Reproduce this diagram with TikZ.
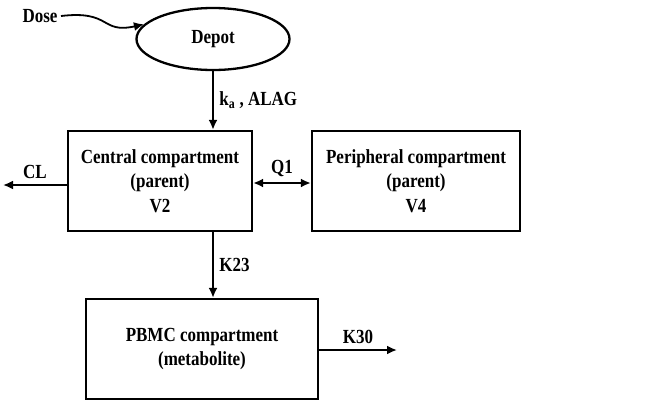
\documentclass[tikz,border=0pt]{standalone}
\usepackage{fontspec}
\setmainfont{Liberation Serif}[FakeStretch=0.85]
\usetikzlibrary{arrows.meta,shapes.geometric}

\tikzset{
	comp/.style = {draw, line width = 2.3pt, minimum height = 100pt, align = center, inner sep = 0pt},
	flow/.style = {line width = 2.2pt, -{Latex[length = 10pt, width = 9pt]}}
}

\begin{document}
\begin{tikzpicture}[x = 1pt, y = -1pt, font = \fontsize{20}{24.5}\selectfont\bfseries]
	\useasboundingbox (0, 0) rectangle (661, 405);
	% compartments
	\node[draw, ellipse, line width = 2.3pt, minimum width = 153pt, minimum height = 62pt] (depot) at (213, 39) {Depot};
	\node[comp, minimum width = 184pt] (central) at (160, 181) {Central compartment\\(parent)\\V2};
	\node[comp, minimum width = 208pt] (periph) at (416, 181) {Peripheral compartment\\(parent)\\V4};
	\node[comp, minimum width = 232pt] (pbmc) at (202, 349) {PBMC compartment\\(metabolite)};
	% dose
	\node (dose) at (40, 16) {Dose};
	\draw[flow, line width = 1.8pt] (dose.east) .. controls (112, 10) and (100, 34) .. (depot.168);
	% free ends
	\coordinate (clend) at (3, 185);
	\coordinate (k30end) at (397, 350);
	% flows
	\draw[flow] (depot.south) -- node[right, xshift = 2pt] {k\textsubscript{a} , ALAG} (depot.south |- central.north);
	\draw[flow] (central.west |- clend) -- node[above, yshift = 2pt] {CL} (clend);
	\draw[flow, {Latex[length = 10pt, width = 9pt]}-{Latex[length = 10pt, width = 9pt]}] (central.east |- 0, 183) -- node[above, yshift = 2pt] {Q1} (periph.west |- 0, 183);
	\draw[flow] (depot.south |- central.south) -- node[right, xshift = 2pt] {K23} (depot.south |- pbmc.north);
	\draw[flow] (pbmc.east |- k30end) -- node[above, yshift = 2pt] {K30} (k30end);
\end{tikzpicture}
\end{document}
